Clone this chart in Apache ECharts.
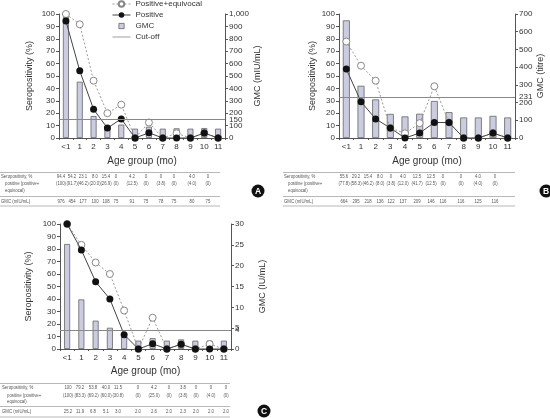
<!DOCTYPE html>
<html><head><meta charset="utf-8">
<script src="https://cdn.jsdelivr.net/npm/echarts@6/dist/echarts.min.js"></script>
<style>html,body{margin:0;padding:0;background:#fff}#c{width:550px;height:418px}</style>
</head><body><div id="c"></div>
<script>
// ---------- data ----------
const categories = ['<1','1','2','3','4','5','6','7','8','9','10','11'];

const positiveA = [94.4, 54.2, 23.1, 8.0, 15.4, 0, 4.2, 0, 0, 0, 4.0, 0];
const posEquivA = [100, 91.7, 46.2, 20.0, 26.9, 0, 12.5, 0, 3.8, 0, 4.0, 0];
const gmcA      = [976, 454, 177, 100, 108, 75, 91, 75, 78, 75, 80, 75];
const cutoffA = 150;

const positiveB = [55.6, 29.2, 15.4, 8.0, 0, 4.0, 12.5, 12.5, 0, 0, 4.0, 0];
const posEquivB = [77.8, 58.3, 46.2, 8.0, 3.8, 12.0, 41.7, 12.5, 0, 0, 4.0, 0];
const gmcB      = [664, 295, 218, 136, 122, 137, 209, 146, 116, 116, 125, 116];
const cutoffB = 231;

const positiveC = [100, 79.2, 53.8, 40.0, 11.5, 0, 4.2, 0, 3.8, 0, 0, 0];
const posEquivC = [100, 83.3, 69.2, 60.0, 30.8, 0, 25.0, 0, 3.8, 0, 4.0, 0];
const gmcC      = [25.2, 11.9, 6.8, 5.1, 3.0, 2.0, 2.6, 2.0, 2.3, 2.0, 2.0, 2.0];
const cutoffC = 4.5;
const cutoffLabelC = '4';

const rowLabels = ['Seropositivity, %', 'positive (positive+', 'equivocal)', 'GMC (mIU/mL)'];

// ---------- layout ----------
const FONT = '"Liberation Sans Narrow", "Liberation Sans", Arial, sans-serif';
const AX = '#555', TX = '#333';
const panels = [
  {grid:{left:59, top:14, width:166, height:124}, rightMax:1000, rightInt:100, rightName:'GMC (mIU/mL)',
   lg:25, rg:25, bw:6, pos:positiveA, pe:posEquivA, gmc:gmcA, cut:cutoffA, cutLabel:String(cutoffA), xGap:18},
  {grid:{left:339, top:14, width:176, height:124}, rightMax:700, rightInt:100, rightName:'GMC (titre)',
   lg:22, rg:17, bw:7, pos:positiveB, pe:posEquivB, gmc:gmcB, cut:cutoffB, cutLabel:String(cutoffB), xGap:18},
  {grid:{left:60, top:224, width:171, height:125}, rightMax:30, rightInt:5, rightName:'GMC (IU/mL)',
   lg:27, rg:27, bw:6, pos:positiveC, pe:posEquivC, gmc:gmcC, cut:cutoffC, cutLabel:cutoffLabelC, xGap:17}
];
const tables = [
  {x0:0, x1:220, lx:1, ind:4, yTop:172.5, r:[176.5,183,190], mid:196.5, g:201.5, bot:206,
   cols:[61,72,83,95,106,116,132,146,161,174,192,208], pos:positiveA, pe:posEquivA, gmc:gmcA, gd:0,
   badge:{x:258,y:191,t:'A'}},
  {x0:283, x1:515, lx:284, ind:4, yTop:172.5, r:[176.5,183,190], mid:196.5, g:201.5, bot:206,
   cols:[344,356,368,380,391,403,417,431,443,461,478,495], pos:positiveB, pe:posEquivB, gmc:gmcB, gd:0,
   badge:{x:546,y:191,t:'B'}},
  {x0:0, x1:230, lx:2, ind:5, yTop:383.5, r:[387.5,395,401.5], mid:406.5, g:411.5, bot:417,
   cols:[68,80,93,106,118,138,154,169,183,196,211,226], pos:positiveC, pe:posEquivC, gmc:gmcC, gd:1,
   badge:{x:264,y:411,t:'C'}}
];

// ---------- build ----------
const grids=[], xAxes=[], yAxes=[], series=[];
panels.forEach((p,i)=>{
  grids.push(p.grid);
  xAxes.push({type:'category', gridIndex:i, data:categories, boundaryGap:true,
    name:'Age group (mo)', nameLocation:'middle', nameGap:p.xGap,
    nameTextStyle:{fontFamily:FONT, fontSize:10, color:TX},
    axisLine:{lineStyle:{color:AX, width:1}}, axisTick:{show:true, length:2, lineStyle:{color:AX}},
    axisLabel:{fontFamily:FONT, fontSize:8, color:TX, margin:5, interval:0}});
  yAxes.push({type:'value', gridIndex:i, min:0, max:100, interval:10, position:'left',
    name:'Seropositivity (%)', nameLocation:'middle', nameGap:p.lg,
    nameTextStyle:{fontFamily:FONT, fontSize:9, color:TX},
    axisLine:{show:true, lineStyle:{color:AX}}, axisTick:{show:true, length:3, lineStyle:{color:AX}},
    splitLine:{show:false}, axisLabel:{fontFamily:FONT, fontSize:8, color:TX, margin:4}});
  yAxes.push({type:'value', gridIndex:i, min:0, max:p.rightMax, interval:p.rightInt, position:'right',
    name:p.rightName, nameLocation:'middle', nameGap:p.rg, nameRotate:90,
    nameTextStyle:{fontFamily:FONT, fontSize:9, color:TX},
    axisLine:{show:true, lineStyle:{color:AX}}, axisTick:{show:true, length:3, lineStyle:{color:AX}},
    splitLine:{show:false},
    axisLabel:{fontFamily:FONT, fontSize:8, color:TX, margin:4,
      formatter:v=>v>=1000? v.toLocaleString('en-US') : String(v)}});
  series.push({name:'GMC', type:'bar', xAxisIndex:i, yAxisIndex:2*i+1, data:p.gmc, barWidth:p.bw,
    itemStyle:{color:'#cbcbe2', borderColor:'#666', borderWidth:0.8}, z:1});
  series.push({name:'Cut-off', type:'line', xAxisIndex:i, yAxisIndex:2*i+1, data:[], symbol:'none',
    lineStyle:{color:'#888', width:1}, itemStyle:{color:'#888'},
    markLine:{silent:true, symbol:'none', animation:false,
      lineStyle:{color:'#888', width:1, type:'solid'},
      label:{show:true, position:'end', distance:4, formatter:p.cutLabel, fontFamily:FONT, fontSize:8, color:TX},
      data:[{yAxis:p.cut}]}, z:2});
  series.push({name:'Positive+equivocal', type:'line', xAxisIndex:i, yAxisIndex:2*i, data:p.pe,
    symbol:'circle', symbolSize:7,
    lineStyle:{color:'#999', width:1, type:[2,2]},
    itemStyle:{color:'#fff', borderColor:'#888', borderWidth:1}, z:3});
  series.push({name:'Positive', type:'line', xAxisIndex:i, yAxisIndex:2*i, data:p.pos,
    symbol:'circle', symbolSize:7,
    lineStyle:{color:'#444', width:1},
    itemStyle:{color:'#111', borderColor:'#111', borderWidth:0}, z:4});
});

function fmtPct(v){ return v===0?'0':(v===100?'100':v.toFixed(1)); }
const graphics=[];
const SX = 0.78;
function txt(x,y,t,align){ graphics.push({type:'text', x:x, y:y, scaleX:SX, silent:true,
  style:{text:t, fontFamily:FONT, fontSize:5.5, fill:'#555', align:align||'center', verticalAlign:'middle'}}); }
function hline(x1,x2,y){ graphics.push({type:'line', silent:true, shape:{x1:x1,y1:y,x2:x2,y2:y}, style:{stroke:'#999', lineWidth:0.7}}); }
tables.forEach(t=>{
  hline(t.x0,t.x1,t.yTop); hline(t.x0,t.x1,t.mid); hline(t.x0,t.x1,t.bot);
  txt(t.lx, t.r[0], rowLabels[0], 'left');
  txt(t.lx+t.ind, t.r[1], rowLabels[1], 'left');
  txt(t.lx+t.ind, t.r[2], rowLabels[2], 'left');
  txt(t.lx, t.g, rowLabels[3], 'left');
  t.cols.forEach((cx,k)=>{
    txt(cx, t.r[0], fmtPct(t.pos[k]));
    txt(cx, t.r[1], '('+fmtPct(t.pe[k])+')');
    txt(cx, t.g, t.gmc[k].toFixed(t.gd));
  });
  graphics.push({type:'circle', silent:true, shape:{cx:t.badge.x, cy:t.badge.y, r:6.5}, style:{fill:'#111'}});
  graphics.push({type:'text', silent:true, x:t.badge.x, y:t.badge.y+0.5,
    style:{text:t.badge.t, fontFamily:'"Liberation Sans", Arial, sans-serif', fontWeight:'bold', fontSize:8.5, fill:'#fff', align:'center', verticalAlign:'middle'}});
});

const chart = echarts.init(document.getElementById('c'), null, {renderer:'canvas'});
chart.setOption({
  animation:false,
  backgroundColor:'#fff',
  legend:{left:112, top:0, padding:0, orient:'vertical', itemGap:3, itemWidth:18, itemHeight:7,
    textStyle:{fontFamily:FONT, fontSize:8, color:TX},
    data:[
      {name:'Positive+equivocal', lineStyle:{type:[2,2], width:1, color:'#999'}},
      {name:'Positive', lineStyle:{width:1, color:'#444'}},
      {name:'GMC', icon:'path://M0,0M6,1h6v6h-6zM18,8', itemStyle:{color:'#cbcbe2', borderColor:'#666', borderWidth:0.8}},
      {name:'Cut-off', icon:'path://M0,3.5h18v0.8h-18z', itemStyle:{color:'#888', borderWidth:0}}]},
  grid:grids, xAxis:xAxes, yAxis:yAxes, series:series, graphic:graphics
});
</script></body></html>
